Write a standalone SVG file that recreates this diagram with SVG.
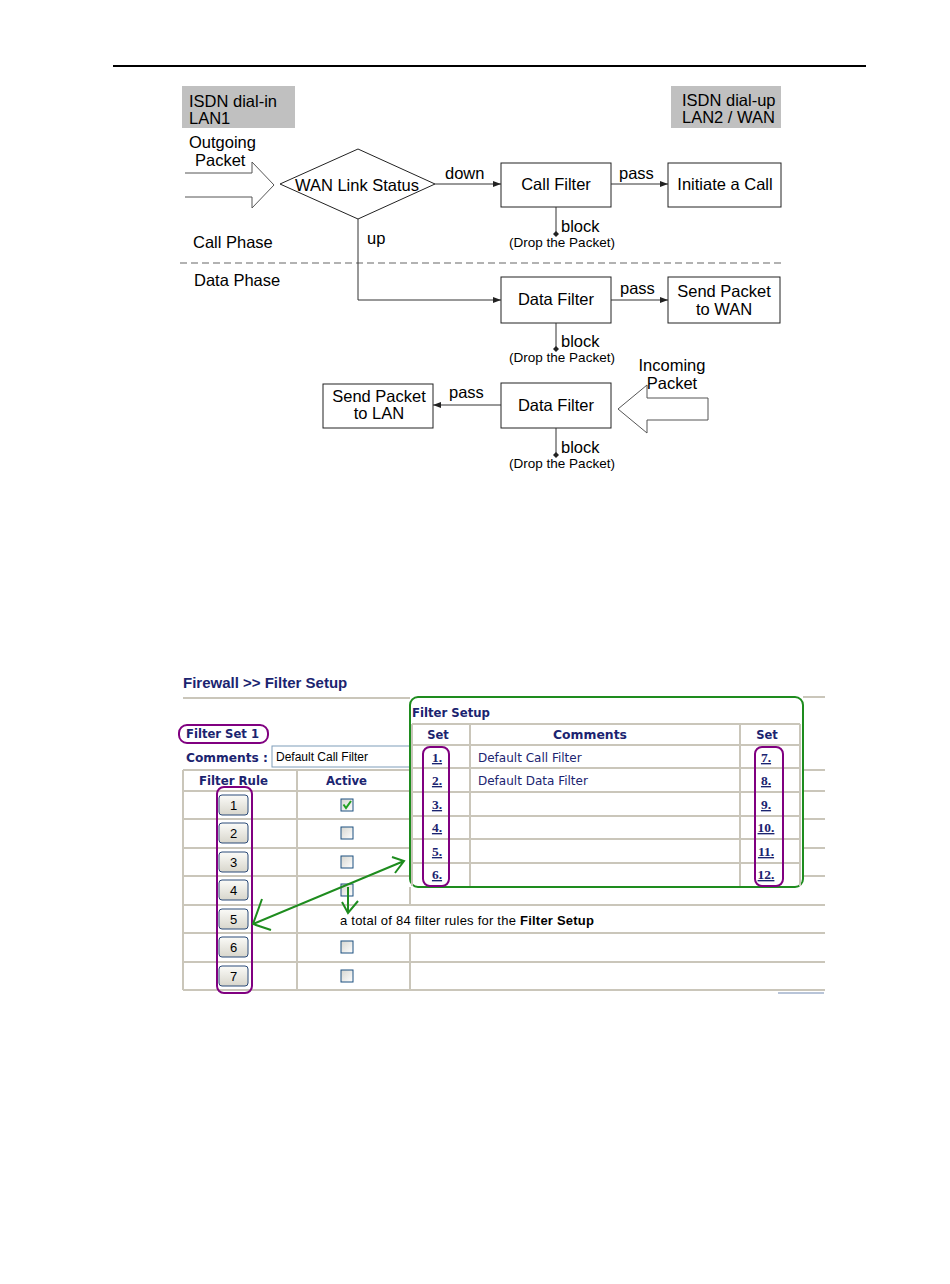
<svg xmlns="http://www.w3.org/2000/svg" width="950" height="1284" viewBox="0 0 950 1284">
<defs>
<style>
.f{font-family:"Liberation Sans",Arial,sans-serif;fill:#000}
.t16{font-size:16.5px}
.t13{font-size:13.5px}
.box{fill:#fff;stroke:#222;stroke-width:1}
.gray{fill:#c0c0c0;stroke:none}
.ln{fill:none;stroke:#333;stroke-width:1}
.v{font-family:"DejaVu Sans",Verdana,sans-serif;fill:#1b2470}
.vb{font-family:"DejaVu Sans",Verdana,sans-serif;font-weight:bold;fill:#1b2470}
.num{font-family:"Liberation Serif","Times New Roman",serif;font-weight:bold;font-size:13.5px;fill:#1b2470;text-decoration:underline}
.tl{stroke:#cac6ba;stroke-width:2;fill:none}
.btn{fill:url(#bg);stroke:#2a4a78;stroke-width:1}
.cb{fill:url(#cg);stroke:#1c5180;stroke-width:1}
.pur{fill:none;stroke:#800080;stroke-width:2}
.grn{fill:none;stroke:#1e8c1e;stroke-width:2}
.bt{font-family:"Liberation Sans",Arial,sans-serif;font-size:13px;fill:#000;text-anchor:middle}
</style>
<marker id="ah" markerWidth="8" markerHeight="6" refX="8" refY="3" orient="auto" markerUnits="userSpaceOnUse"><path d="M0,0 L8,3 L0,6 z" fill="#222"/></marker>
<marker id="dot" markerWidth="6" markerHeight="6" refX="3" refY="3" orient="auto" markerUnits="userSpaceOnUse"><path d="M0,3 L3,0 L6,3 L3,6 z" fill="#222"/></marker>
<linearGradient id="bg" x1="0" y1="0" x2="0" y2="1"><stop offset="0" stop-color="#fbfbf8"/><stop offset="1" stop-color="#d8d6cc"/></linearGradient>
<linearGradient id="cg" x1="0" y1="0" x2="1" y2="1"><stop offset="0" stop-color="#d6d6d0"/><stop offset="1" stop-color="#ffffff"/></linearGradient>
</defs>
<rect width="950" height="1284" fill="#fff"/>
<line x1="113" y1="66" x2="866" y2="66" stroke="#000" stroke-width="2"/>

<!-- Flowchart -->
<g id="lan1">
<rect class="gray" x="182" y="86" width="113" height="42"/>
<text class="f t16" x="189" y="107">ISDN dial-in</text>
<text class="f t16" x="189" y="124">LAN1</text>
</g>
<g id="wan">
<rect class="gray" x="671" y="86" width="110" height="42"/>
<text class="f t16" x="682" y="106">ISDN dial-up</text>
<text class="f t16" x="682" y="123">LAN2 / WAN</text>
</g>
<g id="outgoing">
<polyline points="185,173 252,173 252,162 274,185 252,208 252,197 185,197" fill="#fff" stroke="#555" stroke-width="1"/>
<text class="f t16" x="189" y="148">Outgoing</text>
<text class="f t16" x="195" y="166">Packet</text>
</g>
<g id="status">
<polygon points="280,184 358,149 435,184 358,219" fill="#fff" stroke="#222" stroke-width="1"/>
<text class="f t16" x="357" y="191" text-anchor="middle">WAN Link Status</text>
</g>
<g id="callfilter">
<rect class="box" x="501" y="163" width="110" height="44"/>
<text class="f t16" x="556" y="190" text-anchor="middle">Call Filter</text>
</g>
<g id="initiate">
<rect class="box" x="668" y="163" width="113" height="44"/>
<text class="f t16" x="725" y="190" text-anchor="middle">Initiate a Call</text>
</g>
<g id="datafilter1">
<rect class="box" x="501" y="277" width="110" height="46"/>
<text class="f t16" x="556" y="305" text-anchor="middle">Data Filter</text>
</g>
<g id="sendwan">
<rect class="box" x="668" y="277" width="112" height="46"/>
<text class="f t16" x="724" y="297" text-anchor="middle">Send Packet</text>
<text class="f t16" x="724" y="315" text-anchor="middle">to WAN</text>
</g>
<g id="datafilter2">
<rect class="box" x="501" y="383" width="110" height="45"/>
<text class="f t16" x="556" y="411" text-anchor="middle">Data Filter</text>
</g>
<g id="sendlan">
<rect class="box" x="323" y="384" width="110" height="44"/>
<text class="f t16" x="379" y="402" text-anchor="middle">Send Packet</text>
<text class="f t16" x="379" y="419" text-anchor="middle">to LAN</text>
</g>
<g id="incoming">
<polygon points="708,398 647,398 647,385 618,409 647,433 647,420 708,420" fill="#fff" stroke="#555" stroke-width="1"/>
<text class="f t16" x="672" y="371" text-anchor="middle">Incoming</text>
<text class="f t16" x="672" y="389" text-anchor="middle">Packet</text>
</g>
<g id="phases">
<line x1="180" y1="263" x2="782" y2="263" stroke="#999" stroke-width="1.3" stroke-dasharray="7,4"/>
<text class="f t16" x="193" y="248">Call Phase</text>
<text class="f t16" x="194" y="286">Data Phase</text>
</g>
<g id="connectors">
<line class="ln" x1="435" y1="184" x2="501" y2="184" marker-end="url(#ah)"/>
<text class="f t16" x="445" y="179">down</text>
<line class="ln" x1="611" y1="184" x2="668" y2="184" marker-end="url(#ah)"/>
<text class="f t16" x="619" y="179">pass</text>
<polyline class="ln" points="358,219 358,300 501,300" marker-end="url(#ah)"/>
<text class="f t16" x="367" y="244">up</text>
<line class="ln" x1="611" y1="300" x2="668" y2="300" marker-end="url(#ah)"/>
<text class="f t16" x="620" y="294">pass</text>
<line class="ln" x1="501" y1="405" x2="433" y2="405" marker-end="url(#ah)"/>
<text class="f t16" x="449" y="398">pass</text>
<line class="ln" x1="556" y1="207" x2="556" y2="234" marker-end="url(#dot)"/>
<text class="f t16" x="561" y="232">block</text>
<text class="f t13" x="562" y="247" text-anchor="middle">(Drop the Packet)</text>
<line class="ln" x1="556" y1="323" x2="556" y2="349" marker-end="url(#dot)"/>
<text class="f t16" x="561" y="347">block</text>
<text class="f t13" x="562" y="362" text-anchor="middle">(Drop the Packet)</text>
<line class="ln" x1="556" y1="428" x2="556" y2="455" marker-end="url(#dot)"/>
<text class="f t16" x="561" y="453">block</text>
<text class="f t13" x="562" y="468" text-anchor="middle">(Drop the Packet)</text>
</g>

<!-- Screenshot -->
<g id="screen">
<text x="183" y="688" font-family="Liberation Sans,Arial,sans-serif" font-weight="bold" font-size="15" fill="#1b2470">Firewall &gt;&gt; Filter Setup</text>
<line class="tl" x1="183" y1="698" x2="410" y2="698"/>
<line class="tl" x1="803" y1="697" x2="825" y2="697"/>
<text class="vb" x="186" y="738" font-size="11.5" textLength="73" lengthAdjust="spacingAndGlyphs">Filter Set 1</text>
<text class="vb" x="186" y="762" font-size="12.5" textLength="82" lengthAdjust="spacingAndGlyphs">Comments :</text>
<rect x="272" y="746" width="140" height="21" fill="#fff" stroke="#7f9db9" stroke-width="1"/>
<text x="276" y="761" font-family="Liberation Sans,Arial,sans-serif" font-size="12" fill="#000">Default Call Filter</text>
<path class="tl" d="M183,770H410M183,791H410M183,819H410M183,848H410M183,876H410M183,905H825M183,933H825M183,962H825M183,990H825M803,770H825M803,791H825M803,819H825M803,848H825M803,876H825"/>
<path class="tl" d="M183,770V990M297,770V990M410,887V905M410,933V990"/>
<line x1="778" y1="993" x2="824" y2="993" stroke="#b8c4d8" stroke-width="2"/>
<text class="vb" x="199" y="785" font-size="11.5" textLength="69" lengthAdjust="spacingAndGlyphs">Filter Rule</text>
<text class="vb" x="326" y="785" font-size="11.5" textLength="41" lengthAdjust="spacingAndGlyphs">Active</text>
</g>
<g id="rules">
<rect class="btn" x="219" y="795" width="29" height="20" rx="3"/><text class="bt" x="233.5" y="810">1</text>
<rect class="btn" x="219" y="823" width="29" height="20" rx="3"/><text class="bt" x="233.5" y="838">2</text>
<rect class="btn" x="219" y="852" width="29" height="20" rx="3"/><text class="bt" x="233.5" y="867">3</text>
<rect class="btn" x="219" y="880" width="29" height="20" rx="3"/><text class="bt" x="233.5" y="895">4</text>
<rect class="btn" x="219" y="909" width="29" height="20" rx="3"/><text class="bt" x="233.5" y="924">5</text>
<rect class="btn" x="219" y="937" width="29" height="20" rx="3"/><text class="bt" x="233.5" y="952">6</text>
<rect class="btn" x="219" y="966" width="29" height="20" rx="3"/><text class="bt" x="233.5" y="981">7</text>
<rect class="cb" x="341" y="799" width="12" height="12"/>
<path d="M343.5,804.5 L346,808 L351,801" fill="none" stroke="#21a121" stroke-width="2"/>
<rect class="cb" x="341" y="827" width="12" height="12"/>
<rect class="cb" x="341" y="856" width="12" height="12"/>
<rect class="cb" x="341" y="884" width="12" height="12"/>
<rect class="cb" x="341" y="941" width="12" height="12"/>
<rect class="cb" x="341" y="970" width="12" height="12"/>
<text x="340" y="925" font-family="Liberation Sans,Arial,sans-serif" font-size="13" fill="#000" textLength="254">a total of 84 filter rules for the <tspan font-weight="bold">Filter Setup</tspan></text>
<rect class="pur" x="217" y="787" width="35" height="206" rx="7"/>
<rect class="pur" x="179" y="725" width="89" height="18" rx="8"/>
</g>
<g id="filtersetup">
<rect x="410" y="697" width="393" height="190" rx="8" fill="#fff" stroke="#1e8c1e" stroke-width="2"/>
<text class="vb" x="412" y="717" font-size="11.5" textLength="78" lengthAdjust="spacingAndGlyphs">Filter Setup</text>
<path class="tl" d="M412,724H800M412,745H800M412,768H800M412,792H800M412,816H800M412,839H800M412,863H800M412,724V886M470,724V886M740,724V886M800,724V886"/>
<text class="vb" x="438" y="739" font-size="11.5" text-anchor="middle">Set</text>
<text class="vb" x="590" y="739" font-size="11.5" text-anchor="middle" textLength="74" lengthAdjust="spacingAndGlyphs">Comments</text>
<text class="vb" x="767" y="739" font-size="11.5" text-anchor="middle">Set</text>
<text class="v" x="478" y="762" font-size="12">Default Call Filter</text>
<text class="v" x="478" y="785" font-size="12">Default Data Filter</text>
<text class="num" x="437" y="762" text-anchor="middle">1.</text>
<text class="num" x="437" y="785" text-anchor="middle">2.</text>
<text class="num" x="437" y="809" text-anchor="middle">3.</text>
<text class="num" x="437" y="832" text-anchor="middle">4.</text>
<text class="num" x="437" y="856" text-anchor="middle">5.</text>
<text class="num" x="437" y="879" text-anchor="middle">6.</text>
<text class="num" x="766" y="762" text-anchor="middle">7.</text>
<text class="num" x="766" y="785" text-anchor="middle">8.</text>
<text class="num" x="766" y="809" text-anchor="middle">9.</text>
<text class="num" x="766" y="832" text-anchor="middle">10.</text>
<text class="num" x="766" y="856" text-anchor="middle">11.</text>
<text class="num" x="766" y="879" text-anchor="middle">12.</text>
<rect class="pur" x="423" y="747" width="26" height="139" rx="7"/>
<rect class="pur" x="755" y="747" width="28" height="139" rx="7"/>
</g>
<g id="annotations">
<path class="grn" d="M253,924 L404,861 M262,899 L253,924 L271,930 M392,857 L404,861 L395,873"/>
<path class="grn" stroke-width="2.5" d="M348,887 V913 M342,902 L348,913 L358,901"/>
</g>
</svg>
